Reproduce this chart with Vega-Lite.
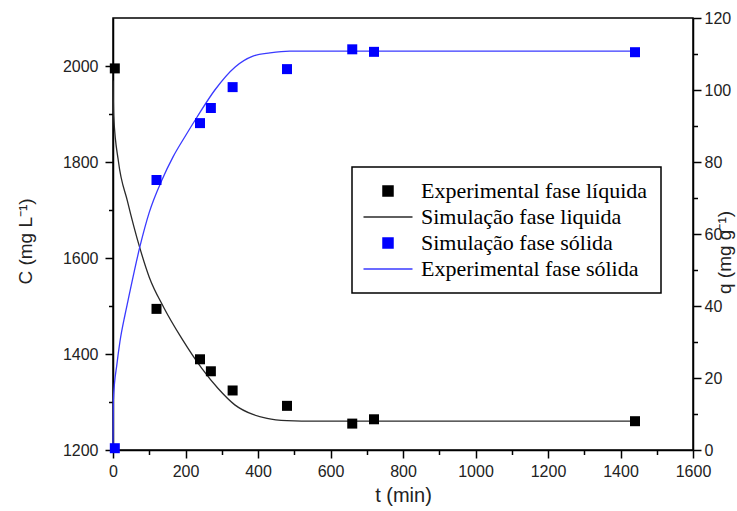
{
  "$schema": "https://vega.github.io/schema/vega-lite/v6.json",
  "width": 580,
  "height": 432,
  "autosize": {"type": "none"},
  "padding": {"left": 113, "top": 18, "right": 44, "bottom": 61},
  "background": "white",
  "config": {
    "view": {"stroke": "black", "strokeWidth": 1.5},
    "axis": {
      "labelFont": "Liberation Sans", "labelFontSize": 16, "labelColor": "#222", "labelFlush": false, "format": "d",
      "titleFont": "Liberation Sans", "titleFontSize": 19, "titleFontWeight": "normal", "titleColor": "#222",
      "domainColor": "black", "domainWidth": 1.5, "tickColor": "black", "tickWidth": 1.5, "tickSize": 8, "grid": false
    }
  },
  "datasets": {
    "expC": [
      {"series": "Experimental fase líquida", "t": 5, "C": 1995},
      {"series": "Experimental fase líquida", "t": 120, "C": 1494},
      {"series": "Experimental fase líquida", "t": 240, "C": 1389},
      {"series": "Experimental fase líquida", "t": 270, "C": 1364},
      {"series": "Experimental fase líquida", "t": 330, "C": 1324},
      {"series": "Experimental fase líquida", "t": 480, "C": 1292},
      {"series": "Experimental fase líquida", "t": 660, "C": 1255},
      {"series": "Experimental fase líquida", "t": 720, "C": 1264},
      {"series": "Experimental fase líquida", "t": 1440, "C": 1260}
    ],
    "simC": [
      {"series": "Simulação fase liquida", "t": 0, "C": 1970},
      {"series": "Simulação fase liquida", "t": 2, "C": 1895},
      {"series": "Simulação fase liquida", "t": 15, "C": 1801},
      {"series": "Simulação fase liquida", "t": 40, "C": 1718},
      {"series": "Simulação fase liquida", "t": 74, "C": 1621},
      {"series": "Simulação fase liquida", "t": 100, "C": 1560},
      {"series": "Simulação fase liquida", "t": 140, "C": 1497},
      {"series": "Simulação fase liquida", "t": 190, "C": 1432},
      {"series": "Simulação fase liquida", "t": 245, "C": 1370},
      {"series": "Simulação fase liquida", "t": 290, "C": 1328},
      {"series": "Simulação fase liquida", "t": 336, "C": 1294},
      {"series": "Simulação fase liquida", "t": 386, "C": 1274},
      {"series": "Simulação fase liquida", "t": 425, "C": 1266},
      {"series": "Simulação fase liquida", "t": 480, "C": 1261},
      {"series": "Simulação fase liquida", "t": 520, "C": 1260},
      {"series": "Simulação fase liquida", "t": 1440, "C": 1260}
    ],
    "expQ": [
      {"series": "Simulação fase sólida", "t": 5, "q": 0.5},
      {"series": "Simulação fase sólida", "t": 120, "q": 75},
      {"series": "Simulação fase sólida", "t": 240, "q": 90.8},
      {"series": "Simulação fase sólida", "t": 270, "q": 95},
      {"series": "Simulação fase sólida", "t": 330, "q": 100.8},
      {"series": "Simulação fase sólida", "t": 480, "q": 105.8},
      {"series": "Simulação fase sólida", "t": 660, "q": 111.3},
      {"series": "Simulação fase sólida", "t": 720, "q": 110.6},
      {"series": "Simulação fase sólida", "t": 1440, "q": 110.5}
    ],
    "simQ": [
      {"series": "Experimental fase sólida", "t": 0, "q": 0},
      {"series": "Experimental fase sólida", "t": 1, "q": 14},
      {"series": "Experimental fase sólida", "t": 11, "q": 24},
      {"series": "Experimental fase sólida", "t": 19, "q": 30},
      {"series": "Experimental fase sólida", "t": 33, "q": 37.5},
      {"series": "Experimental fase sólida", "t": 41, "q": 41.3},
      {"series": "Experimental fase sólida", "t": 74, "q": 56.4},
      {"series": "Experimental fase sólida", "t": 100, "q": 66},
      {"series": "Experimental fase sólida", "t": 135, "q": 75},
      {"series": "Experimental fase sólida", "t": 166, "q": 81.5},
      {"series": "Experimental fase sólida", "t": 200, "q": 87.3},
      {"series": "Experimental fase sólida", "t": 232, "q": 92.5},
      {"series": "Experimental fase sólida", "t": 281, "q": 100},
      {"series": "Experimental fase sólida", "t": 337, "q": 106.4},
      {"series": "Experimental fase sólida", "t": 386, "q": 109.4},
      {"series": "Experimental fase sólida", "t": 433, "q": 110.3},
      {"series": "Experimental fase sólida", "t": 488, "q": 110.8},
      {"series": "Experimental fase sólida", "t": 1440, "q": 110.8}
    ]
  },
  "layer": [
    {
      "data": {"name": "expC"},
      "mark": {"type": "point", "opacity": 0},
      "encoding": {
        "x": {"field": "t", "type": "quantitative", "scale": {"domain": [0, 1600], "nice": false, "zero": false},
              "axis": {"orient": "bottom", "values": [100, 300, 500, 700, 900, 1100, 1300, 1500], "labels": false, "domain": false, "tickSize": 4.5, "title": null}},
        "y": {"field": "C", "type": "quantitative", "scale": {"domain": [1200, 2100], "nice": false, "zero": false},
              "axis": {"orient": "left", "values": [1300, 1500, 1700, 1900], "labels": false, "domain": false, "tickSize": 4.5, "title": null}}
      }
    },
    {
      "data": {"name": "expQ"},
      "mark": {"type": "point", "opacity": 0},
      "encoding": {
        "x": {"field": "t", "type": "quantitative", "axis": null},
        "y": {"field": "q", "type": "quantitative", "scale": {"domain": [0, 120], "nice": false, "zero": false},
              "axis": {"orient": "right", "values": [10, 30, 50, 70, 90, 110], "labels": false, "domain": false, "tickSize": 4.5, "title": null}}
      }
    },
    {
      "encoding": {
        "x": {
          "field": "t", "type": "quantitative",
          "axis": {"orient": "bottom", "values": [0, 200, 400, 600, 800, 1000, 1200, 1400, 1600], "title": "t (min)", "titleFontSize": 20, "labelPadding": 5, "titleY": 45, "titleBaseline": "middle"}
        },
        "y": {
          "field": "C", "type": "quantitative",
          "scale": {"domain": [1200, 2100], "nice": false, "zero": false},
          "axis": {"orient": "left", "values": [1200, 1400, 1600, 1800, 2000], "title": "C (mg L⁻¹)", "labelPadding": 7,
                   "titleAngle": 270, "titleX": -88, "titleY": 223, "titleBaseline": "middle", "titleAlign": "center"}
        },
        "color": {
          "field": "series", "type": "nominal",
          "scale": {
            "domain": ["Experimental fase líquida", "Simulação fase liquida", "Simulação fase sólida", "Experimental fase sólida"],
            "range": ["#000000", "#2a2a2a", "#0000ff", "#3a3aff"]
          },
          "legend": {
            "orient": "none", "legendX": 239, "legendY": 149, "title": null,
            "strokeColor": "black", "fillColor": "white", "padding": 13,
            "labelFont": "Liberation Serif", "labelFontSize": 22, "labelColor": "black", "labelLimit": 400,
            "symbolSize": 100, "symbolOffset": 12, "labelOffset": 22, "rowPadding": 4,
            "encode": {
              "legend": {"update": {"strokeWidth": {"value": 1.5}}},
              "symbols": {"update": {
                "shape": {"signal": "(datum.value === 'Simulação fase liquida' || datum.value === 'Experimental fase sólida') ? 'M-4.9,0H4.9' : 'square'"},
                "fill": {"signal": "(datum.value === 'Simulação fase liquida' || datum.value === 'Experimental fase sólida') ? 'transparent' : (datum.value === 'Experimental fase líquida' ? 'black' : 'blue')"},
                "stroke": {"signal": "(datum.value === 'Simulação fase liquida') ? '#2a2a2a' : (datum.value === 'Experimental fase sólida' ? '#3a3aff' : 'transparent')"},
                "strokeWidth": {"value": 1.5},
                "opacity": {"value": 1},
                "fillOpacity": {"value": 1},
                "strokeOpacity": {"value": 1}
              }}
            }
          }
        }
      },
      "layer": [
        {"data": {"name": "simC"}, "mark": {"type": "line", "strokeWidth": 1.3, "interpolate": "monotone"}},
        {"data": {"name": "expC"}, "mark": {"type": "point", "shape": "square", "filled": true, "size": 100, "opacity": 1}}
      ]
    },
    {
      "encoding": {
        "x": {"field": "t", "type": "quantitative", "axis": null},
        "y": {
          "field": "q", "type": "quantitative",
          "scale": {"domain": [0, 120], "nice": false, "zero": false},
          "axis": {"orient": "right", "values": [0, 20, 40, 60, 80, 100, 120], "title": "q (mg g⁻¹)", "labelPadding": 3,
                   "titleAngle": 270, "titleX": 31, "titleY": 234, "titleBaseline": "middle", "titleAlign": "center"}
        },
        "color": {"field": "series", "type": "nominal"}
      },
      "layer": [
        {"data": {"name": "simQ"}, "mark": {"type": "line", "strokeWidth": 1.3, "interpolate": "monotone"}},
        {"data": {"name": "expQ"}, "mark": {"type": "point", "shape": "square", "filled": true, "size": 100, "opacity": 1}}
      ]
    }
  ],
  "resolve": {"scale": {"y": "independent"}, "axis": {"x": "independent", "y": "independent"}}
}
